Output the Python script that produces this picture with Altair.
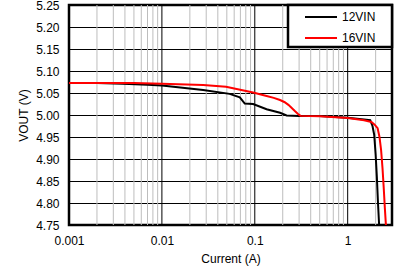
import altair as alt
import pandas as pd

I12 = [0.001, 0.002, 0.0038, 0.007, 0.01, 0.0278, 0.0536, 0.069, 0.078, 0.096, 0.134, 0.187, 0.22, 0.3, 0.5, 1.0, 1.5, 1.75, 1.85, 1.93, 2.0, 2.06, 2.12, 2.18]
V12 = [5.073, 5.073, 5.071, 5.069, 5.067, 5.057, 5.048, 5.040, 5.026, 5.025, 5.013, 5.005, 4.999, 4.998, 4.998, 4.994, 4.990, 4.988, 4.975, 4.955, 4.91, 4.86, 4.80, 4.75]
I16 = [0.001, 0.005, 0.01, 0.0278, 0.049, 0.096, 0.134, 0.16, 0.187, 0.21, 0.23, 0.25, 0.27, 0.29, 0.31, 0.5, 1.0, 1.5, 1.8, 1.95, 2.1, 2.2, 2.29, 2.37, 2.44, 2.51, 2.58]
V16 = [5.073, 5.073, 5.071, 5.068, 5.064, 5.051, 5.043, 5.039, 5.034, 5.029, 5.023, 5.016, 5.009, 5.003, 4.998, 4.997, 4.993, 4.988, 4.984, 4.978, 4.970, 4.950, 4.920, 4.880, 4.837, 4.79, 4.75]
SERIES = ["12VIN", "16VIN"]
COLORS = ["black", "red"]
MAJOR = [0.01, 0.1, 1]
MINOR = [m * d for d in [0.001, 0.01, 0.1, 1] for m in range(2, 10) if m * d < 3]
XTICKS = [0.001, 0.01, 0.1, 1]
YTICKS = [4.75, 4.80, 4.85, 4.90, 4.95, 5.00, 5.05, 5.10, 5.15, 5.20, 5.25]

rows = []
for i, v in zip(I12, V12):
    rows.append({"I": i, "V": v, "s": SERIES[0], "o": len(rows)})
for i, v in zip(I16, V16):
    rows.append({"I": i, "V": v, "s": SERIES[1], "o": len(rows)})
df = pd.DataFrame(rows)

xs = alt.Scale(type="log", domain=[0.001, 3])
ys = alt.Scale(domain=[4.75, 5.25])

minor = alt.Chart(pd.DataFrame({"g": MINOR})).mark_rule(color="#bdbdbd", strokeWidth=1).encode(
    x=alt.X("g:Q", scale=xs))
major = alt.Chart(pd.DataFrame({"g": MAJOR})).mark_rule(color="black", strokeWidth=1).encode(
    x=alt.X("g:Q", scale=xs))

lines = alt.Chart(df).mark_line(strokeWidth=2, clip=True).encode(
    x=alt.X("I:Q", scale=xs, title="Current (A)",
            axis=alt.Axis(values=XTICKS, format="~g", grid=False, ticks=False, domain=False,
                          labelFlush=False, labelPadding=10, titlePadding=7)),
    y=alt.Y("V:Q", scale=ys, title="VOUT (V)",
            axis=alt.Axis(values=YTICKS, format=".2f", grid=True, gridColor="black", gridOpacity=1,
                          ticks=False, domain=False, labelPadding=10, titlePadding=5,
                          labelFlush=False)),
    color=alt.Color("s:N", scale=alt.Scale(domain=SERIES, range=COLORS),
                    legend=alt.Legend(title=None, orient="top-right", offset=0, padding=3,
                                      strokeColor="black", fillColor="white",
                                      symbolType="M-2,0H2", symbolSize=256, symbolStrokeWidth=2,
                                      symbolOffset=21, labelOffset=12,
                                      labelFontSize=12, labelFont="Liberation Sans",
                                      labelExpr="datum.label + '\u00a0\u00a0\u00a0\u00a0\u200b'",
                                      rowPadding=6)),
    order="o:Q",
)

chart = alt.layer(minor, major, lines).properties(
    width=323, height=220,
    autosize=alt.AutoSizeParams(type="none"),
    padding={"left": 69, "top": 5, "right": 14, "bottom": 41},
).configure_view(stroke="black", strokeWidth=2.5).configure_axis(
    labelFont="Liberation Sans", titleFont="Liberation Sans", labelFontSize=12,
    titleFontSize=12, titleFontWeight="normal", labelColor="black", titleColor="black"
).configure_legend(strokeWidth=2.5)

chart.save("out.html", embed_options={"renderer": "svg", "actions": False})
